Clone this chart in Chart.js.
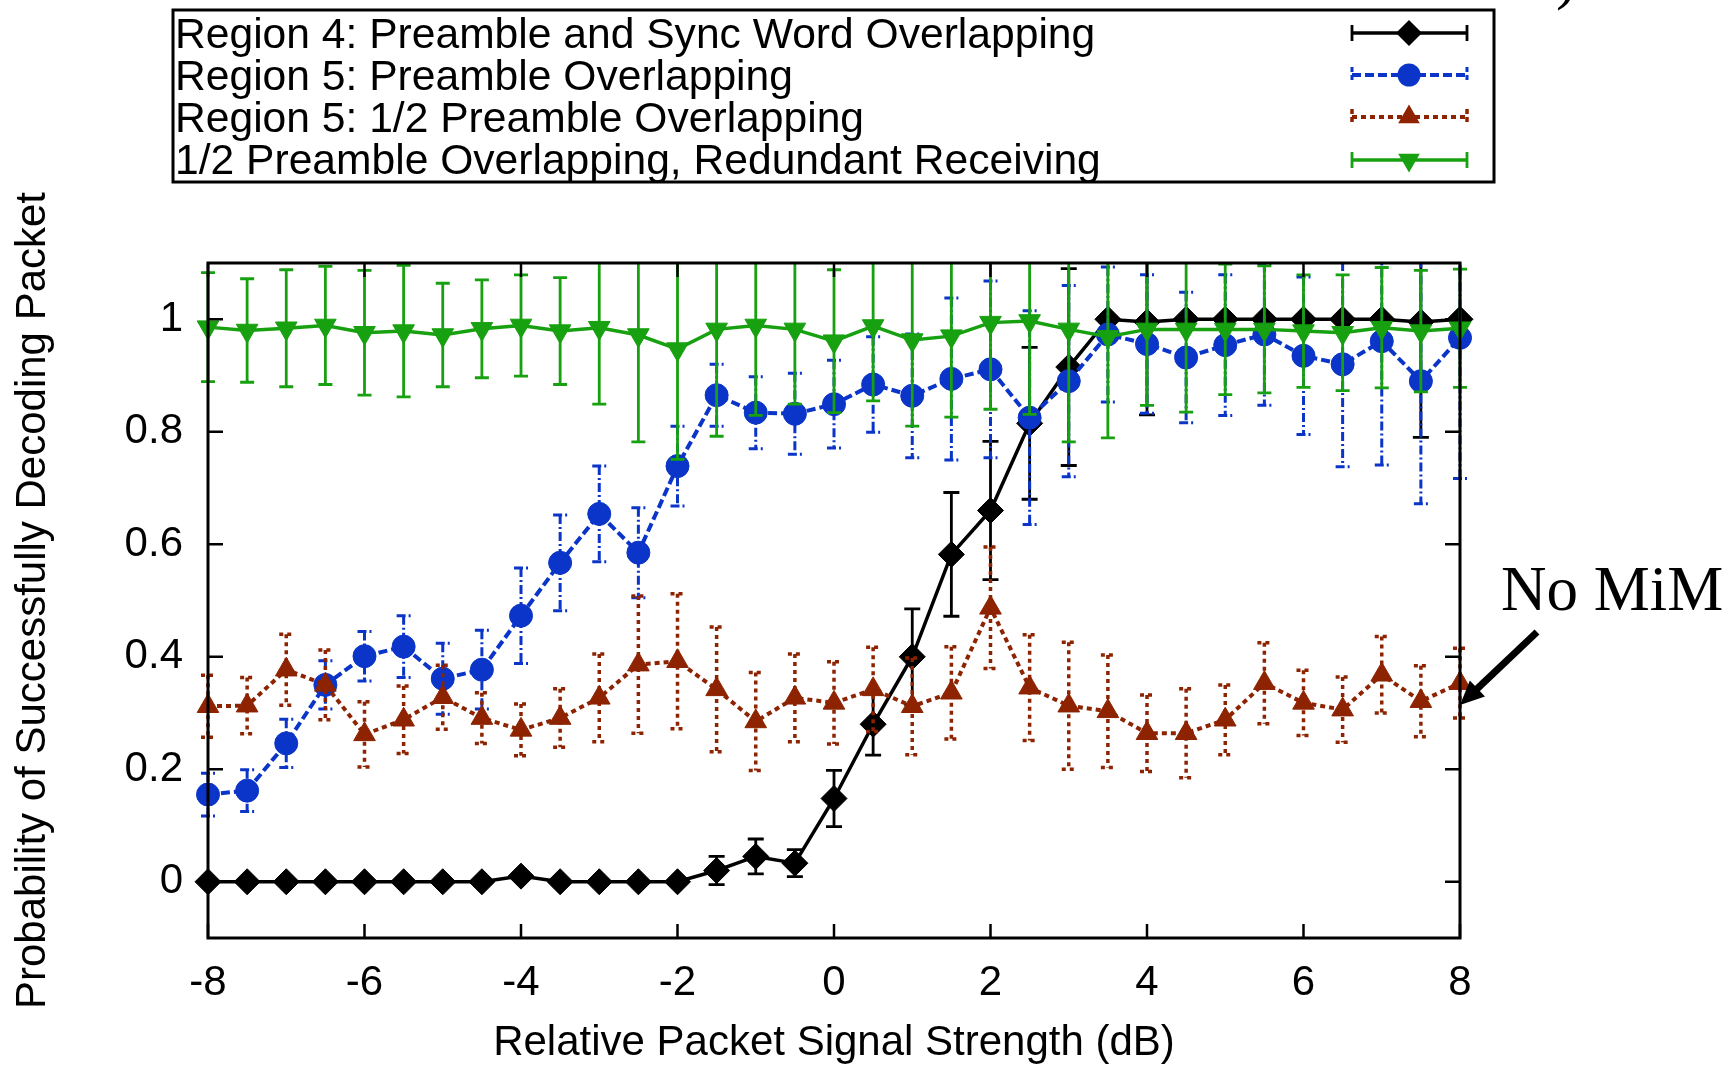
<!DOCTYPE html>
<html>
<head>
<meta charset="utf-8">
<style>
  html, body { margin: 0; padding: 0; background: #ffffff; }
  #c { display: block; }
</style>
<script src="https://cdn.jsdelivr.net/npm/chart.js@4.4.1/dist/chart.umd.min.js"></script>
</head>
<body>
<canvas id="c" width="1729" height="1069"></canvas>
<script>
// ---------- data ----------
const xValues = [-8, -7.5, -7, -6.5, -6, -5.5, -5, -4.5, -4, -3.5, -3, -2.5, -2, -1.5, -1, -0.5,
                 0, 0.5, 1, 1.5, 2, 2.5, 3, 3.5, 4, 4.5, 5, 5.5, 6, 6.5, 7, 7.5, 8];

const xTicks = [-8, -6, -4, -2, 0, 2, 4, 6, 8];
const yTicks = [0, 0.2, 0.4, 0.6, 0.8, 1];
const yTickLabels = ['0', '0.2', '0.4', '0.6', '0.8', '1'];

const seriesLabels = [
  'Region 4: Preamble and Sync Word Overlapping',
  'Region 5: Preamble Overlapping',
  'Region 5: 1/2 Preamble Overlapping',
  '1/2 Preamble Overlapping, Redundant Receiving'
];

const region4 = [0, 0, 0, 0, 0, 0, 0, 0, 0.01, 0, 0, 0, 0, 0.02, 0.045, 0.033,
                 0.148, 0.28, 0.40, 0.582, 0.66, 0.815, 0.915, 1.0, 0.995, 1.0, 1.0, 1.0, 1.0, 1.0, 1.0, 0.995, 1.0];
const region4Err = [0, 0, 0, 0, 0, 0, 0, 0, 0, 0, 0, 0, 0, 0.025, 0.031, 0.024,
                    0.05, 0.055, 0.085, 0.11, 0.123, 0.135, 0.175, 0, 0.165, 0, 0, 0, 0, 0, 0, 0.205, 0];

const region5 = [0.155, 0.162, 0.246, 0.35, 0.401, 0.418, 0.361, 0.377, 0.473, 0.567, 0.654, 0.585, 0.739, 0.865, 0.834, 0.832,
                 0.849, 0.884, 0.864, 0.894, 0.911, 0.825, 0.89, 0.973, 0.956, 0.932, 0.954, 0.973, 0.935, 0.92, 0.961, 0.89, 0.967];
const region5Err = [0.038, 0.037, 0.043, 0.043, 0.044, 0.055, 0.063, 0.07, 0.085, 0.085, 0.085, 0.08, 0.071, 0.055, 0.064, 0.072,
                    0.078, 0.085, 0.11, 0.144, 0.157, 0.19, 0.17, 0.12, 0.123, 0.116, 0.125, 0.126, 0.14, 0.182, 0.22, 0.218, 0.25];

const halfPreamble = [0.312, 0.313, 0.377, 0.35, 0.262, 0.288, 0.328, 0.291, 0.27, 0.291, 0.327, 0.386, 0.392, 0.342, 0.285, 0.327,
                      0.318, 0.342, 0.312, 0.336, 0.487, 0.345, 0.313, 0.303, 0.264, 0.264, 0.288, 0.353, 0.318, 0.306, 0.368, 0.321, 0.353];
const halfPreambleErr = [0.055, 0.05, 0.063, 0.062, 0.058, 0.06, 0.057, 0.045, 0.046, 0.052, 0.078, 0.122, 0.12, 0.111, 0.087, 0.078,
                         0.073, 0.075, 0.086, 0.082, 0.108, 0.094, 0.113, 0.1, 0.068, 0.079, 0.062, 0.072, 0.058, 0.058, 0.068, 0.063, 0.062];

const redundant = [0.986, 0.98, 0.984, 0.989, 0.976, 0.979, 0.972, 0.983, 0.989, 0.979, 0.985, 0.972, 0.947, 0.982, 0.989, 0.982,
                   0.961, 0.988, 0.963, 0.97, 0.994, 0.997, 0.982, 0.969, 0.982, 0.982, 0.982, 0.982, 0.979, 0.976, 0.985, 0.979, 0.984];
const redundantErr = [0.097, 0.092, 0.104, 0.105, 0.111, 0.117, 0.092, 0.087, 0.09, 0.095, 0.136, 0.19, 0.196, 0.19, 0.16, 0.133,
                      0.127, 0.133, 0.153, 0.144, 0.154, 0.166, 0.2, 0.18, 0.135, 0.147, 0.116, 0.113, 0.1, 0.103, 0.107, 0.108, 0.105];

const xTitle = 'Relative Packet Signal Strength (dB)';
const yTitle = 'Probability of Successfully Decoding Packet';
const annotationText = 'No MiM';

// ---------- styling ----------
const SANS = "'Liberation Sans', Arial, Helvetica, sans-serif";
const SERIF = "'Liberation Serif', 'Times New Roman', serif";
const BLACK = '#000000';
const BLUE = '#0a35c8';
const RED = '#8d2300';
const GREEN = '#17a00f';

Chart.defaults.font.family = SANS;
Chart.defaults.color = '#000';

function pts(arr) { return xValues.map((x, i) => ({ x: x, y: arr[i] })); }

const datasets = [
  {
    label: seriesLabels[0], data: pts(region4), errors: region4Err,
    borderColor: BLACK, backgroundColor: BLACK, borderWidth: 3.5, borderDash: [],
    pointStyle: 'rectRot', pointRadius: 13, pointBackgroundColor: BLACK, pointBorderColor: BLACK, pointBorderWidth: 1,
    errDash: [], errWidth: 2.8, errCap: 8, order: 4, clip: false, tension: 0
  },
  {
    label: seriesLabels[1], data: pts(region5), errors: region5Err,
    borderColor: BLUE, backgroundColor: BLUE, borderWidth: 4, borderDash: [9, 4],
    pointStyle: 'circle', pointRadius: 11.5, pointBackgroundColor: BLUE, pointBorderColor: BLUE, pointBorderWidth: 1,
    errDash: [9, 3, 2, 3], errWidth: 3, errCap: 7, order: 3, clip: false, tension: 0
  },
  {
    label: seriesLabels[2], data: pts(halfPreamble), errors: halfPreambleErr,
    borderColor: RED, backgroundColor: RED, borderWidth: 4, borderDash: [5, 4],
    pointStyle: 'triangle', pointRadius: 12.5, pointBackgroundColor: RED, pointBorderColor: RED, pointBorderWidth: 1,
    errDash: [4, 4], errWidth: 3.5, errCap: 7, order: 2, clip: false, tension: 0
  },
  {
    label: seriesLabels[3], data: pts(redundant), errors: redundantErr,
    borderColor: GREEN, backgroundColor: GREEN, borderWidth: 3.5, borderDash: [],
    pointStyle: 'triangle', pointRotation: 180, pointRadius: 12.5, pointBackgroundColor: GREEN, pointBorderColor: GREEN, pointBorderWidth: 1,
    errDash: [], errWidth: 2.8, errCap: 7, order: 1, clip: false, tension: 0
  }
];

// ---------- plugins ----------
const whiteBg = {
  id: 'whiteBg',
  beforeDraw(chart) {
    const c = chart.ctx;
    c.save();
    c.fillStyle = '#ffffff';
    c.fillRect(0, 0, chart.width, chart.height);
    c.restore();
  }
};

const errorBars = {
  id: 'errorBars',
  beforeDatasetDraw(chart, args) {
    const ds = chart.data.datasets[args.index];
    if (!ds.errors) return;
    const c = chart.ctx;
    const ys = chart.scales.y;
    const ca = chart.chartArea;
    c.save();
    c.beginPath();
    c.rect(0, ca.top, chart.width, ca.bottom - ca.top);
    c.clip();
    c.strokeStyle = ds.borderColor;
    c.lineWidth = ds.errWidth;
    c.setLineDash(ds.errDash);
    c.lineCap = 'butt';
    args.meta.data.forEach((p, i) => {
      const e = ds.errors[i];
      if (!e) return;
      const v = ds.data[i].y;
      const yT = ys.getPixelForValue(v + e);
      const yB = ys.getPixelForValue(v - e);
      c.beginPath();
      c.moveTo(p.x, yT); c.lineTo(p.x, yB);
      c.moveTo(p.x - ds.errCap, yT); c.lineTo(p.x + ds.errCap, yT);
      c.moveTo(p.x - ds.errCap, yB); c.lineTo(p.x + ds.errCap, yB);
      c.stroke();
    });
    c.restore();
  }
};

const frameTicks = {
  id: 'frameTicks',
  afterDatasetsDraw(chart) {
    const c = chart.ctx;
    const ca = chart.chartArea;
    const xs = chart.scales.x, ys = chart.scales.y;
    c.save();
    c.strokeStyle = '#000';
    c.lineWidth = 2.5;
    c.setLineDash([]);
    c.beginPath();
    xTicks.forEach(v => {
      const px = xs.getPixelForValue(v);
      c.moveTo(px, ca.bottom); c.lineTo(px, ca.bottom - 14);
      c.moveTo(px, ca.top); c.lineTo(px, ca.top + 14);
    });
    yTicks.forEach(v => {
      const py = ys.getPixelForValue(v);
      c.moveTo(ca.left, py); c.lineTo(ca.left + 15, py);
      c.moveTo(ca.right, py); c.lineTo(ca.right - 15, py);
    });
    c.stroke();
    c.lineWidth = 3;
    c.strokeRect(ca.left, ca.top, ca.right - ca.left, ca.bottom - ca.top);
    c.restore();
  }
};

function drawMarker(c, style, x, y, r, color, rot) {
  c.save();
  c.fillStyle = color;
  c.setLineDash([]);
  c.beginPath();
  if (style === 'rectRot') {
    c.moveTo(x, y - r); c.lineTo(x + r, y); c.lineTo(x, y + r); c.lineTo(x - r, y); c.closePath();
  } else if (style === 'circle') {
    c.arc(x, y, r, 0, Math.PI * 2);
  } else {
    const s = rot ? -1 : 1;
    const h = Math.sqrt(3) / 2 * r;
    c.moveTo(x, y - s * r); c.lineTo(x + h, y + s * r / 2); c.lineTo(x - h, y + s * r / 2); c.closePath();
  }
  c.fill();
  c.restore();
}

const legendBox = {
  id: 'legendBox',
  afterDraw(chart) {
    const c = chart.ctx;
    c.save();
    c.strokeStyle = '#000';
    c.lineWidth = 3;
    c.setLineDash([]);
    c.strokeRect(173, 10, 1494 - 173, 182 - 10);
    c.fillStyle = '#000';
    c.font = '42.6px ' + SANS;
    c.textAlign = 'left';
    c.textBaseline = 'alphabetic';
    const baselines = [48, 90, 132, 174];
    const centers = [33, 75, 117, 160];
    chart.data.datasets.forEach((ds, i) => {
      c.fillStyle = '#000';
      c.fillText(ds.label, 175, baselines[i]);
      const yc = centers[i];
      const x0 = 1352, x1 = 1467, xm = 1409;
      c.strokeStyle = ds.borderColor;
      c.lineWidth = ds.borderWidth;
      c.setLineDash(ds.borderDash);
      c.beginPath();
      c.moveTo(x0, yc); c.lineTo(x1, yc);
      c.stroke();
      c.lineWidth = ds.errWidth;
      c.setLineDash(ds.errDash.length ? [5, 3] : []);
      c.beginPath();
      c.moveTo(x0, yc - 8); c.lineTo(x0, yc + 8);
      c.moveTo(x1, yc - 8); c.lineTo(x1, yc + 8);
      c.stroke();
      drawMarker(c, ds.pointStyle, xm, yc, ds.pointRadius, ds.borderColor, ds.pointRotation);
    });
    c.restore();
  }
};

const annotation = {
  id: 'annotation',
  afterDraw(chart) {
    const c = chart.ctx;
    c.save();
    c.fillStyle = '#000';
    c.font = '63px ' + SERIF;
    c.textAlign = 'left';
    c.textBaseline = 'alphabetic';
    c.fillText(annotationText, 1501, 610);
    c.fillText(')', 1556, -3);
    // arrow
    const sx = 1537, sy = 632, tx = 1460, ty = 705;
    const dx = tx - sx, dy = ty - sy;
    const len = Math.hypot(dx, dy);
    const ux = dx / len, uy = dy / len;
    const hl = 24, hw = 11;
    const bx = tx - ux * hl, by = ty - uy * hl;
    c.strokeStyle = '#000';
    c.lineWidth = 7;
    c.lineCap = 'butt';
    c.beginPath();
    c.moveTo(sx, sy); c.lineTo(bx + ux * 2, by + uy * 2);
    c.stroke();
    c.beginPath();
    c.moveTo(tx, ty);
    c.lineTo(bx - uy * hw, by + ux * hw);
    c.lineTo(bx + uy * hw, by - ux * hw);
    c.closePath();
    c.fill();
    c.restore();
  }
};

// ---------- chart ----------
new Chart(document.getElementById('c').getContext('2d'), {
  type: 'line',
  data: { datasets: datasets },
  options: {
    responsive: false,
    animation: false,
    events: [],
    layout: { padding: { left: 0, right: 269, top: 263, bottom: 0 } },
    plugins: { legend: { display: false }, tooltip: { enabled: false }, title: { display: false } },
    scales: {
      x: {
        type: 'linear', min: -8, max: 8,
        afterBuildTicks: s => { s.ticks = xTicks.map(v => ({ value: v })); },
        afterFit: s => { s.height = 131; },
        grid: { display: false, drawTicks: false },
        border: { display: false },
        ticks: { color: '#000', font: { size: 42, family: SANS }, padding: 20, maxRotation: 0, autoSkip: false,
                 callback: v => String(v) },
        title: { display: true, text: xTitle, color: '#000', font: { size: 42, family: SANS }, padding: { top: 0, bottom: 0 } }
      },
      y: {
        type: 'linear', min: -0.1, max: 1.1,
        afterBuildTicks: s => { s.ticks = yTicks.map(v => ({ value: v })); },
        afterFit: s => { s.width = 208; },
        grid: { display: false, drawTicks: false },
        border: { display: false },
        ticks: { color: '#000', font: { size: 42, family: SANS }, padding: 25, autoSkip: false,
                 callback: v => { const i = yTicks.indexOf(v); return i >= 0 ? yTickLabels[i] : ''; } },
        title: { display: true, text: yTitle, color: '#000', font: { size: 42, family: SANS }, padding: { top: 8, bottom: 0 } }
      }
    }
  },
  plugins: [whiteBg, errorBars, frameTicks, legendBox, annotation]
});
</script>
</body>
</html>
